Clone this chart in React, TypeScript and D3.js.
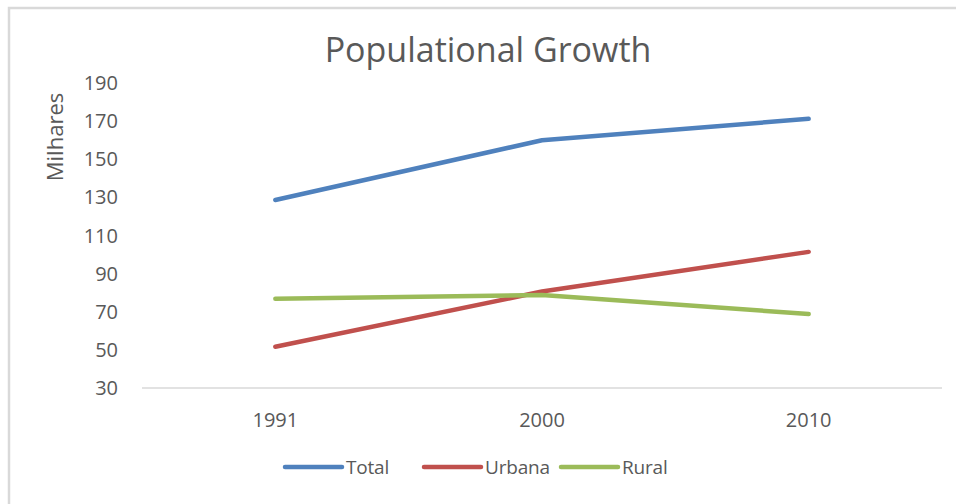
import React, { useRef, useEffect } from 'react';
import * as d3 from 'd3';

// Data (thousands)
const years = ['1991', '2000', '2010'];
const total = [128.6, 160, 171.2];
const urbana = [51.6, 80.6, 101.4];
const rural = [76.8, 78.8, 68.8];
const yTicks = [30, 50, 70, 90, 110, 130, 150, 170, 190];

const seriesNames = ['Total', 'Urbana', 'Rural'];
const seriesColors = ['#4F81BD', '#C0504D', '#9BBB59'];

const FONT = '"Open Sans", "Noto Sans", sans-serif';
const TEXT = '#595959';

const App: React.FC = () => {
  const svgRef = useRef<SVGSVGElement>(null);

  useEffect(() => {
    if (!svgRef.current) return;
    const width = 956;
    const height = 504;

    d3.select(svgRef.current).selectAll('*').remove();
    const svg = d3.select(svgRef.current).attr('width', width).attr('height', height);

    // Chart area frame (extends past the right and bottom edges)
    svg
      .append('rect')
      .attr('x', 9)
      .attr('y', 8)
      .attr('width', width + 20)
      .attr('height', height + 20)
      .attr('fill', 'white')
      .attr('stroke', '#d9d9d9')
      .attr('stroke-width', 2.5);

    const x = d3.scaleBand<string>().domain(years).range([142, 942]).padding(0);
    const y = d3.scaleLinear().domain([30, 190]).range([388, 83]);

    // Title
    svg
      .append('text')
      .attr('x', 488)
      .attr('y', 62)
      .attr('text-anchor', 'middle')
      .attr('font-family', FONT)
      .attr('font-size', 34)
      .attr('fill', TEXT)
      .text('Populational Growth');

    // Y axis label
    svg
      .append('text')
      .attr('transform', `translate(63, 137) rotate(-90)`)
      .attr('text-anchor', 'middle')
      .attr('font-family', FONT)
      .attr('font-size', 22)
      .attr('fill', TEXT)
      .text('Milhares');

    // Y tick labels
    svg
      .selectAll('.ytick')
      .data(yTicks)
      .enter()
      .append('text')
      .attr('class', 'ytick')
      .attr('x', 118)
      .attr('y', (d) => y(d))
      .attr('dy', '0.35em')
      .attr('text-anchor', 'end')
      .attr('font-family', FONT)
      .attr('font-size', 20)
      .attr('fill', TEXT)
      .text((d) => d);

    // Baseline
    svg
      .append('line')
      .attr('x1', x.range()[0])
      .attr('x2', x.range()[1])
      .attr('y1', y(30))
      .attr('y2', y(30))
      .attr('stroke', '#d9d9d9')
      .attr('stroke-width', 1.5);

    // X tick labels
    svg
      .selectAll('.xtick')
      .data(years)
      .enter()
      .append('text')
      .attr('class', 'xtick')
      .attr('x', (d) => (x(d) ?? 0) + x.bandwidth() / 2)
      .attr('y', 420)
      .attr('dy', '0.35em')
      .attr('text-anchor', 'middle')
      .attr('font-family', FONT)
      .attr('font-size', 20)
      .attr('fill', TEXT)
      .text((d) => d);

    // Lines
    const series = [total, urbana, rural];
    const line = d3
      .line<number>()
      .x((_, i) => (x(years[i]) ?? 0) + x.bandwidth() / 2)
      .y((d) => y(d));

    svg
      .selectAll('.series')
      .data(series)
      .enter()
      .append('path')
      .attr('class', 'series')
      .attr('d', (d) => line(d))
      .attr('fill', 'none')
      .attr('stroke', (_, i) => seriesColors[i])
      .attr('stroke-width', 4.5)
      .attr('stroke-linecap', 'round')
      .attr('stroke-linejoin', 'round');

    // Legend
    const legendX = [285, 424, 561];
    const legend = svg
      .selectAll('.legend')
      .data(seriesNames)
      .enter()
      .append('g')
      .attr('class', 'legend')
      .attr('transform', (_, i) => `translate(${legendX[i]}, 467)`);

    legend
      .append('line')
      .attr('x1', 0)
      .attr('x2', 57)
      .attr('stroke', (_, i) => seriesColors[i])
      .attr('stroke-width', 4.5)
      .attr('stroke-linecap', 'round');

    legend
      .append('text')
      .attr('x', 61)
      .attr('dy', '0.35em')
      .attr('font-family', FONT)
      .attr('font-size', 19)
      .attr('letter-spacing', -0.2)
      .attr('fill', TEXT)
      .text((d) => d);
  }, []);

  return (
    <div style={{ position: 'absolute', left: 0, top: 0 }}>
      <svg ref={svgRef} style={{ display: 'block' }} />
    </div>
  );
};

export default App;
